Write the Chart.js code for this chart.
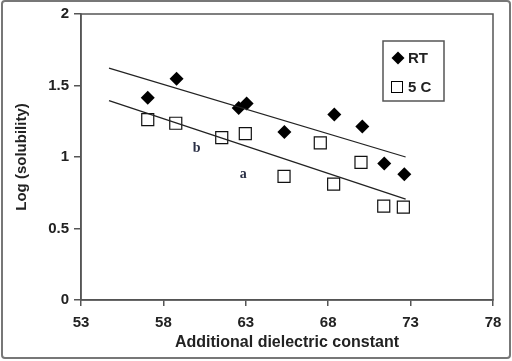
<!DOCTYPE html>
<html>
<head>
<meta charset="utf-8">
<script src="https://cdn.jsdelivr.net/npm/chart.js@4.4.0/dist/chart.umd.min.js"></script>
<style>
  html, body { margin: 0; padding: 0; background: #fff; }
  #wrap { width: 512px; height: 361px; }
</style>
</head>
<body>
<div id="wrap"><canvas id="solubilityChart" width="512" height="361"></canvas></div>
<script>
// data
const rtX = [57.05, 58.8, 62.57, 63.05, 65.34, 68.37, 70.07, 71.4, 72.62];
const rtY = [1.415, 1.547, 1.343, 1.375, 1.175, 1.298, 1.213, 0.955, 0.88];
const coldX = [57.05, 58.75, 61.54, 62.97, 65.32, 67.52, 68.33, 69.99, 71.37, 72.56];
const coldY = [1.261, 1.236, 1.136, 1.164, 0.864, 1.099, 0.81, 0.962, 0.657, 0.65];
const fitX = [54.7, 72.7];
const rtFitY = [1.622, 1.0];
const coldFitY = [1.394, 0.706];
const seriesNames = ['RT', '5 C'];
const noteText = ['b', 'a'];
const noteX = [60.02, 62.85];
const noteY = [1.06, 0.88];
const xTicks = [53, 58, 63, 68, 73, 78];
const yTicks = [0, 0.5, 1, 1.5, 2];

const toPoints = (xs, ys) => xs.map((x, i) => ({ x: x, y: ys[i] }));
const axisColor = '#555';
const textColor = '#222';
const sans = '"Liberation Sans", Arial, sans-serif';

// frame, plot box, a/b notes and boxed legend
const decorations = {
  id: 'decorations',
  afterDraw(chart) {
    const ctx = chart.ctx;
    const area = chart.chartArea;
    const xs = chart.scales.x, ys = chart.scales.y;
    ctx.save();
    // plot box
    ctx.strokeStyle = axisColor;
    ctx.lineWidth = 1.5;
    ctx.strokeRect(area.left, area.top, area.right - area.left, area.bottom - area.top);
    // outer frame
    ctx.strokeStyle = '#777';
    ctx.lineWidth = 2;
    ctx.beginPath();
    ctx.roundRect(2, 1, 508, 357, 3);
    ctx.stroke();
    // a / b notes
    ctx.fillStyle = '#2a2f45';
    ctx.font = 'bold 14px "Liberation Serif", "DejaVu Serif", serif';
    ctx.textAlign = 'center';
    ctx.textBaseline = 'middle';
    noteText.forEach((t, i) => {
      ctx.fillText(t, xs.getPixelForValue(noteX[i]), ys.getPixelForValue(noteY[i]));
    });
    // legend box
    ctx.strokeStyle = axisColor;
    ctx.lineWidth = 1.5;
    ctx.fillStyle = '#fff';
    ctx.fillRect(383, 41, 61, 60);
    ctx.strokeRect(383, 41, 61, 60);
    // RT marker
    ctx.fillStyle = '#000';
    ctx.beginPath();
    ctx.moveTo(398, 51.5); ctx.lineTo(404.5, 58); ctx.lineTo(398, 64.5); ctx.lineTo(391.5, 58);
    ctx.closePath();
    ctx.fill();
    // 5 C marker
    ctx.strokeStyle = '#000';
    ctx.lineWidth = 1;
    ctx.strokeRect(391.5, 81.5, 11, 11);
    ctx.fillStyle = textColor;
    ctx.font = 'bold 15px ' + sans;
    ctx.textAlign = 'left';
    ctx.fillText(seriesNames[0], 408, 59);
    ctx.fillText(seriesNames[1], 408, 88);
    ctx.restore();
  }
};

const ctx = document.getElementById('solubilityChart').getContext('2d');
new Chart(ctx, {
  type: 'scatter',
  data: {
    datasets: [
      {
        label: seriesNames[0] + ' fit',
        data: toPoints(fitX, rtFitY),
        showLine: true,
        borderColor: '#222',
        borderWidth: 1.3,
        pointRadius: 0
      },
      {
        label: seriesNames[1] + ' fit',
        data: toPoints(fitX, coldFitY),
        showLine: true,
        borderColor: '#222',
        borderWidth: 1.3,
        pointRadius: 0
      },
      {
        label: seriesNames[0],
        data: toPoints(rtX, rtY),
        pointStyle: 'rectRot',
        pointRadius: 7,
        backgroundColor: '#000',
        borderColor: '#000',
        borderWidth: 0
      },
      {
        label: seriesNames[1],
        data: toPoints(coldX, coldY),
        pointStyle: 'rect',
        pointRadius: 8.5,
        backgroundColor: '#fff',
        borderColor: '#111',
        borderWidth: 1.2
      }
    ]
  },
  options: {
    responsive: false,
    animation: false,
    layout: { padding: { left: 0, top: 13, right: 19, bottom: 0 } },
    plugins: {
      legend: { display: false },
      tooltip: { enabled: false }
    },
    scales: {
      x: {
        type: 'linear',
        min: 53,
        max: 78,
        afterBuildTicks(scale) { scale.ticks = xTicks.map(v => ({ value: v })); },
        afterFit(scale) { scale.height = 61; },
        grid: { drawOnChartArea: false, drawTicks: true, tickLength: 6, color: axisColor, lineWidth: 1.5 },
        border: { display: true, color: axisColor, width: 1.5 },
        ticks: {
          color: textColor,
          padding: 8,
          maxRotation: 0,
          callback: v => String(v),
          font: { family: sans, size: 15, weight: 'bold' }
        },
        title: {
          display: true,
          text: 'Additional dielectric constant',
          color: textColor,
          padding: { top: 0, bottom: 9 },
          font: { family: sans, size: 16, weight: 'bold' }
        }
      },
      y: {
        min: 0,
        max: 2,
        afterBuildTicks(scale) { scale.ticks = yTicks.map(v => ({ value: v })); },
        afterFit(scale) { scale.width = 81; },
        grid: { drawOnChartArea: false, drawTicks: true, tickLength: 7, color: axisColor, lineWidth: 1.5 },
        border: { display: true, color: axisColor, width: 1.5 },
        ticks: {
          color: textColor,
          padding: 5,
          callback: v => String(v),
          font: { family: sans, size: 15, weight: 'bold' }
        },
        title: {
          display: true,
          text: 'Log (solubility)',
          color: textColor,
          padding: { top: 13, bottom: 0 },
          font: { family: sans, size: 15, weight: 'bold' }
        }
      }
    }
  },
  plugins: [decorations]
});
</script>
</body>
</html>
